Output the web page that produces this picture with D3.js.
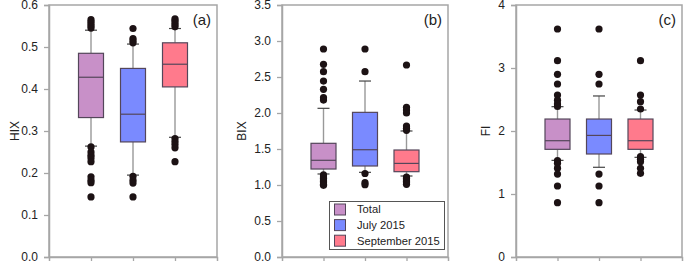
<!DOCTYPE html>
<html>
<head>
<meta charset="utf-8">
<script src="https://cdn.jsdelivr.net/npm/d3@7"></script>
<style>
  body { margin: 0; background: #fff; }
  text { font-family: "Liberation Sans", Arial, sans-serif; }
</style>
</head>
<body>
<div id="chart"></div>
<script>
var categories = ["Total", "July 2015", "September 2015"];
var colors = ["#c890c8", "#7a8aff", "#ff7a8c"];

// stats per category: [whiskerLow, q1, median, q3, whiskerHigh]
var hixStats = [
  [0.264, 0.332, 0.428, 0.485, 0.540],
  [0.195, 0.274, 0.340, 0.449, 0.507],
  [0.285, 0.405, 0.459, 0.510, 0.544]
];
var hixOutliers = [
  [0.545, 0.550, 0.555, 0.560, 0.565, 0.262, 0.250, 0.242, 0.236, 0.227, 0.191, 0.183, 0.177, 0.143],
  [0.544, 0.520, 0.515, 0.510, 0.192, 0.183, 0.176, 0.143],
  [0.548, 0.553, 0.558, 0.563, 0.567, 0.282, 0.275, 0.268, 0.260, 0.227]
];

var bixStats = [
  [1.153, 1.222, 1.343, 1.579, 2.065],
  [1.176, 1.264, 1.490, 2.009, 2.444],
  [1.125, 1.185, 1.300, 1.486, 1.750]
];
var bixOutliers = [
  [2.889, 2.676, 2.574, 2.444, 2.329, 2.213, 2.180, 1.140, 1.110, 1.090, 1.070, 1.050, 1.030, 1.010, 0.995],
  [2.889, 2.574, 1.160, 1.032, 1.005],
  [2.667, 2.079, 2.040, 2.000, 1.819, 1.787, 1.760, 1.110, 1.090, 1.070, 1.050, 1.030, 1.010]
];

var fiStats = [
  [1.534, 1.709, 1.846, 2.190, 2.386],
  [1.424, 1.635, 1.930, 2.190, 2.556],
  [1.582, 1.709, 1.846, 2.190, 2.333]
];
var fiOutliers = [
  [3.619, 3.116, 2.900, 2.746, 2.571, 2.490, 2.430, 2.390, 1.530, 1.487, 1.410, 1.317, 1.127, 0.862],
  [3.619, 2.900, 2.746, 1.317, 1.127, 0.862],
  [3.116, 2.571, 2.465, 2.349, 1.592, 1.550, 1.513, 1.408, 1.328]
];

var hixTicks = [0, 0.1, 0.2, 0.3, 0.4, 0.5, 0.6];
var bixTicks = [0, 0.5, 1.0, 1.5, 2.0, 2.5, 3.0, 3.5];
var fiTicks = [0, 1, 2, 3, 4];

var width = 685;
var height = 262;
var plotTop = 5, plotBottom = 257;

var panels = [
  { left: 49, right: 217, max: 0.6, ticks: hixTicks, fmt: d3.format(".1f"), title: "HIX", titleX: 15, tag: "(a)", stats: hixStats, outliers: hixOutliers },
  { left: 282, right: 448, max: 3.5, ticks: bixTicks, fmt: d3.format(".1f"), title: "BIX", titleX: 242, tag: "(b)", stats: bixStats, outliers: bixOutliers },
  { left: 516, right: 682, max: 4, ticks: fiTicks, fmt: d3.format("d"), title: "FI", titleX: 486, tag: "(c)", stats: fiStats, outliers: fiOutliers }
];

var svg = d3.select("#chart")
  .append("svg")
  .attr("width", width)
  .attr("height", height);

var axisColor = "#a6a6a6";
var boxW = 25;
var capW = 12;

panels.forEach(function (p) {
  var x = d3.scaleLinear().domain([0, 4]).range([p.left, p.right]);
  var y = d3.scaleLinear().domain([0, p.max]).range([plotBottom, plotTop]);

  var g = svg.append("g");

  // frame
  g.append("rect")
    .attr("x", p.left)
    .attr("y", plotTop)
    .attr("width", p.right - p.left)
    .attr("height", plotBottom - plotTop)
    .attr("fill", "none")
    .attr("stroke", axisColor)
    .attr("stroke-width", 1.5);

  // y axis
  var yAxis = d3.axisLeft(y).tickValues(p.ticks).tickFormat(p.fmt).tickSize(5).tickPadding(6);
  var ya = g.append("g").attr("transform", "translate(" + p.left + ",0)").call(yAxis);
  ya.select(".domain").attr("stroke", axisColor).attr("stroke-width", 1.5);
  ya.selectAll(".tick line").attr("stroke", axisColor).attr("stroke-width", 1.3);
  ya.selectAll(".tick text").attr("fill", "#222").style("font-size", "12px")
    .style("font-family", "'Liberation Sans', Arial, sans-serif");

  // x axis ticks only
  var xAxis = d3.axisBottom(x).tickValues([1, 2, 3]).tickFormat("").tickSize(4);
  var xa = g.append("g").attr("transform", "translate(0," + plotBottom + ")").call(xAxis);
  xa.select(".domain").attr("stroke", axisColor).attr("stroke-width", 1.5);
  xa.selectAll(".tick line").attr("stroke", axisColor).attr("stroke-width", 1.3);

  // axis title
  g.append("text")
    .attr("transform", "translate(" + p.titleX + "," + ((plotTop + plotBottom) / 2) + ") rotate(-90)")
    .attr("text-anchor", "middle")
    .attr("dy", "0.35em")
    .style("font-size", "12px")
    .attr("fill", "#222")
    .text(p.title);

  // panel tag
  g.append("text")
    .attr("x", p.right - 6)
    .attr("y", 25)
    .attr("text-anchor", "end")
    .style("font-size", "15px")
    .attr("fill", "#222")
    .text(p.tag);

  p.stats.forEach(function (s, i) {
    var cx = x(i + 1);
    // whiskers
    g.append("line")
      .attr("x1", cx).attr("x2", cx)
      .attr("y1", y(s[0])).attr("y2", y(s[1]))
      .attr("stroke", "#999").attr("stroke-width", 1.4);
    g.append("line")
      .attr("x1", cx).attr("x2", cx)
      .attr("y1", y(s[3])).attr("y2", y(s[4]))
      .attr("stroke", "#999").attr("stroke-width", 1.4);
    [s[0], s[4]].forEach(function (v) {
      g.append("line")
        .attr("x1", cx - capW / 2).attr("x2", cx + capW / 2)
        .attr("y1", y(v)).attr("y2", y(v))
        .attr("stroke", "#444").attr("stroke-width", 1.2);
    });
    // box
    g.append("rect")
      .attr("x", cx - boxW / 2)
      .attr("y", y(s[3]))
      .attr("width", boxW)
      .attr("height", y(s[1]) - y(s[3]))
      .attr("fill", colors[i])
      .attr("stroke", "#54465a")
      .attr("stroke-width", 1.2);
    g.append("line")
      .attr("x1", cx - boxW / 2).attr("x2", cx + boxW / 2)
      .attr("y1", y(s[2])).attr("y2", y(s[2]))
      .attr("stroke", "#54465a").attr("stroke-width", 1.2);
    // outliers
    g.selectAll(".out" + i)
      .data(p.outliers[i])
      .join("circle")
      .attr("class", "out" + i)
      .attr("cx", cx)
      .attr("cy", (d) => y(d))
      .attr("r", 3.6)
      .attr("fill", "#1c1214");
  });
});

// legend in panel (b)
var legend = svg.append("g");
legend.append("rect")
  .attr("x", 329.5).attr("y", 201.5)
  .attr("width", 115).attr("height", 48)
  .attr("fill", "#fff")
  .attr("stroke", "#555")
  .attr("stroke-width", 1);

categories.forEach(function (c, i) {
  var ly = 209.5 + i * 15.6;
  legend.append("rect")
    .attr("x", 334.5).attr("y", ly - 5.5)
    .attr("width", 11).attr("height", 11)
    .attr("fill", colors[i])
    .attr("stroke", "#54465a")
    .attr("stroke-width", 1);
  legend.append("text")
    .attr("x", 357).attr("y", ly)
    .attr("dy", "0.35em")
    .style("font-size", "11.2px")
    .attr("fill", "#222")
    .text(c);
});
</script>
</body>
</html>
